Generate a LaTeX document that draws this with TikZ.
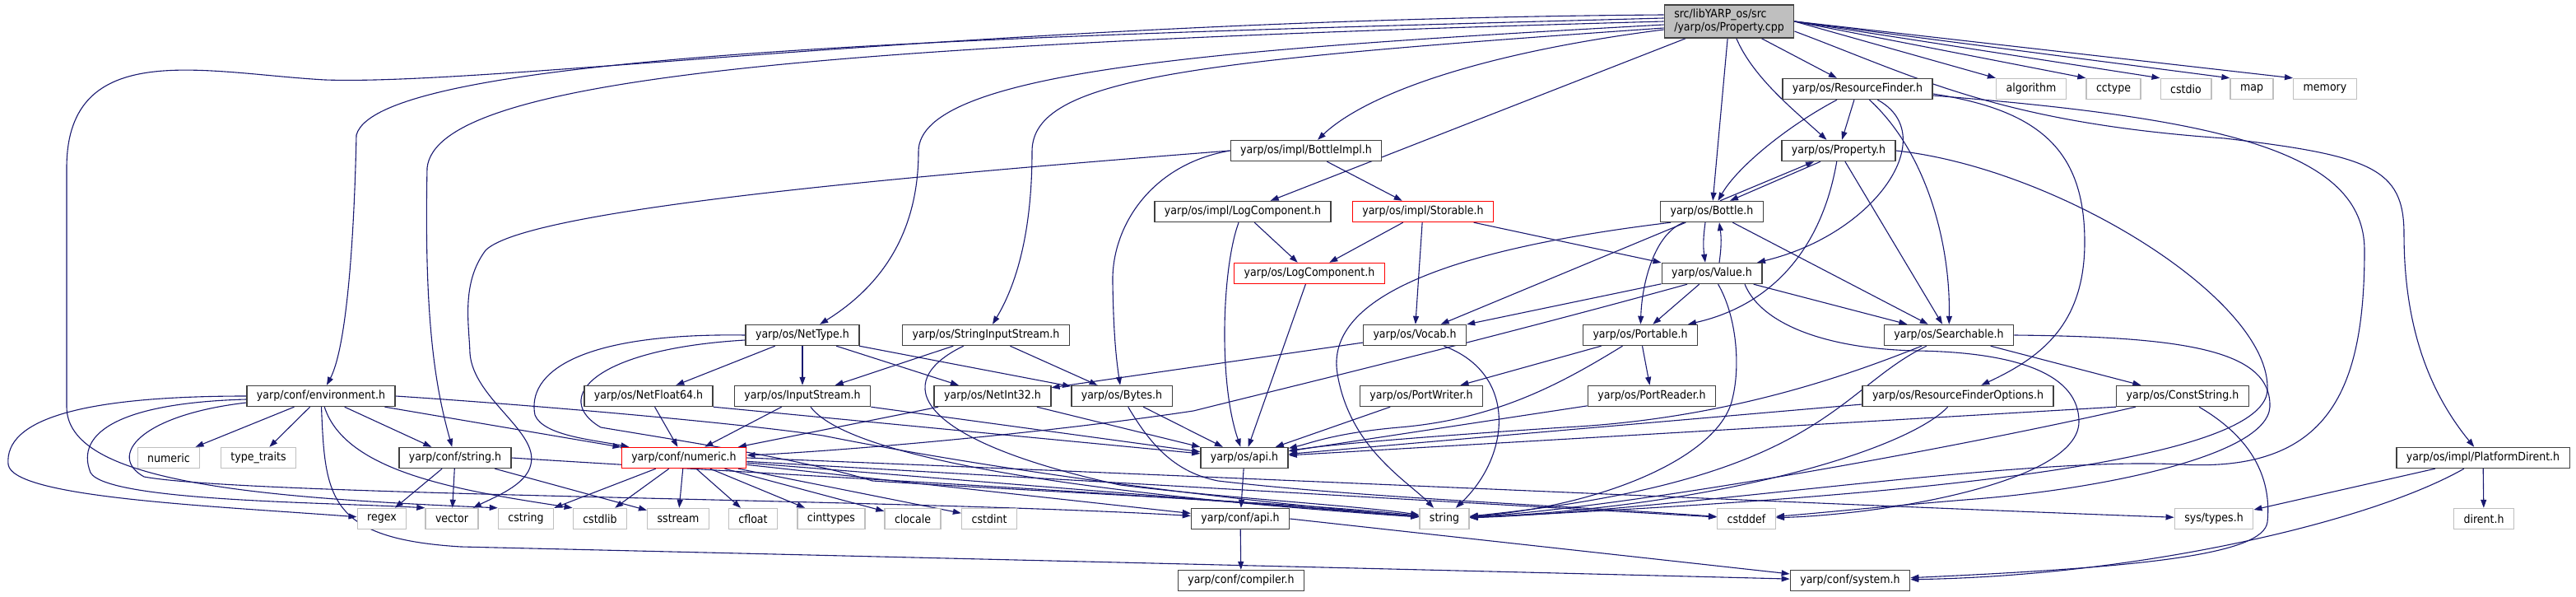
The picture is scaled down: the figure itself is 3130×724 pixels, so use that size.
\documentclass[tikz,border=0pt]{standalone}
\usepackage{fontspec}
\setmainfont{DejaVu Sans Condensed}
\usepackage{xcolor}
\usetikzlibrary{arrows.meta,backgrounds}
\definecolor{edgeblue}{HTML}{191970}
\definecolor{boxgray}{HTML}{BFBFBF}
\definecolor{boxdark}{HTML}{404040}

\begin{document}
\begin{tikzpicture}[
        x=1pt, y=1pt,
        doc/.style  ={draw=boxdark, line width=1.4pt, fill=white, minimum height=25pt,
                      inner xsep=12pt, inner ysep=0pt, font=\fontsize{14}{16}\selectfont},
        sys/.style  ={doc, draw=boxgray},
        trunc/.style={doc, draw=red},
        dep/.style  ={draw=edgeblue, line width=1.1pt, -{Triangle[length=10pt,width=7pt]}}
    ]
        \useasboundingbox (0,0) rectangle (3130,724);
        % root file
        \node[doc, fill=boxgray, align=left, minimum height=40pt, inner ysep=3pt]
              (root) at (2101,698) {src/libYARP\_os/src\\/yarp/os/Property.cpp};
        % project headers, row by row
        \node[doc] (RF)       at (2257,616) {yarp/os/ResourceFinder.h};
        \node[doc] (BImpl)    at (1587,541) {yarp/os/impl/BottleImpl.h};
        \node[doc] (PropH)    at (2234,541) {yarp/os/Property.h};
        \node[doc] (LogCI)    at (1510,467) {yarp/os/impl/LogComponent.h};
        \node[trunc] (Stor)   at (1729,467) {yarp/os/impl/Storable.h};
        \node[doc] (Bottle)   at (2080,467) {yarp/os/Bottle.h};
        \node[trunc] (LogC)   at (1591,392) {yarp/os/LogComponent.h};
        \node[doc] (Value)    at (2080,392) {yarp/os/Value.h};
        \node[doc] (NetType)  at (975,317)  {yarp/os/NetType.h};
        \node[doc] (SIS)      at (1198,317) {yarp/os/StringInputStream.h};
        \node[doc] (Vocab)    at (1719,317) {yarp/os/Vocab.h};
        \node[doc] (Portable) at (1993,317) {yarp/os/Portable.h};
        \node[doc] (Search)   at (2368,317) {yarp/os/Searchable.h};
        \node[doc] (Env)      at (390,243)  {yarp/conf/environment.h};
        \node[doc] (NF64)     at (788,243)  {yarp/os/NetFloat64.h};
        \node[doc] (InS)      at (975,243)  {yarp/os/InputStream.h};
        \node[doc] (NI32)     at (1206,243) {yarp/os/NetInt32.h};
        \node[doc] (Bytes)    at (1363,243) {yarp/os/Bytes.h};
        \node[doc] (PW)       at (1727,243) {yarp/os/PortWriter.h};
        \node[doc] (PR)       at (2007,243) {yarp/os/PortReader.h};
        \node[doc] (RFO)      at (2379,243) {yarp/os/ResourceFinderOptions.h};
        \node[doc] (CStr)     at (2652,243) {yarp/os/ConstString.h};
        \node[doc] (CStrH)    at (553,168)  {yarp/conf/string.h};
        \node[trunc] (Num)    at (831,168)  {yarp/conf/numeric.h};
        \node[doc] (OsApi)    at (1512,168) {yarp/os/api.h};
        \node[doc] (PDir)     at (3017,168) {yarp/os/impl/PlatformDirent.h};
        \node[doc] (ConfApi)  at (1507,94)  {yarp/conf/api.h};
        \node[doc] (Compiler) at (1508,19)  {yarp/conf/compiler.h};
        \node[doc] (System)   at (2248,19)  {yarp/conf/system.h};
        % system headers
        \foreach \nm/\px/\py/\lbl in {%
            algo/2468/616/algorithm, cctype/2568/616/cctype, cstdio/2656/616/cstdio,
            map/2736/616/map, memory/2825/616/memory,
            numeric/205/168/numeric, typetr/314/168/type\_traits,
            regex/464/94/regex, vector/549/94/vector, cstring/639/94/cstring,
            cstdlib/729/94/cstdlib, sstream/824/94/sstream, cfloat/915/94/cfloat,
            cinttypes/1010/94/cinttypes, clocale/1109/94/clocale, cstdint/1202/94/cstdint,
            string/1755/94/string, cstddef/2122/94/cstddef, systypes/2690/94/{sys/types.h},
            dirent/3018/94/dirent.h%
        }{
            \node[sys] (\nm) at (\px,\py) {\lbl};
        }

        \begin{scope}[on background layer]
        % straight includes
        \foreach \a/\b in {%
            root/RF, root/Bottle, root/LogCI, RF/PropH, BImpl/Stor, LogCI/LogC,
            Stor/LogC, Stor/Vocab, Stor/Value, LogC/OsApi, Bottle/Vocab, Bottle/Search,
            Value/Vocab, Value/Portable, Value/Search, PropH/Search,
            NetType/NF64, NetType/InS, NetType/NI32, NetType/Bytes, SIS/InS, SIS/Bytes,
            Vocab/NI32, Portable/PW, Portable/PR, PW/OsApi, PR/OsApi, RFO/OsApi,
            Search/CStr, Env/numeric, Env/typetr, Env/CStrH, Env/Num,
            NF64/Num, InS/Num, NI32/Num, NI32/OsApi, Bytes/OsApi,
            CStrH/regex, CStrH/vector, CStrH/sstream,
            Num/cstring, Num/cstdlib, Num/sstream, Num/cfloat, Num/cinttypes,
            Num/clocale, Num/cstdint, Num/ConfApi, Num/string, Num/cstddef,
            OsApi/ConfApi, ConfApi/Compiler, PDir/systypes, PDir/dirent%
        }{
            \draw[dep] (\a) -- (\b);
        }
        \foreach \b in {algo, cctype, cstdio, map, memory}
            \draw[dep] (root.east) -- (\b.north west);
        \draw[dep] (NF64.south east) -- (OsApi);
        \draw[dep] (InS.south east) -- (OsApi);
        \draw[dep] (CStr.south west) -- (OsApi);
        \draw[dep] (ConfApi.east) -- (System);

        % curved includes from the root
        \draw[dep] (root) .. controls (2130,630) and (2180,590) .. (PropH);
        \draw[dep] ([yshift=-10pt]root.west) .. controls (1800,660) and (1660,610) .. (BImpl);
        \draw[dep] ([yshift=-4pt]root.west) .. controls (1500,665) and (1116,640) .. (1116,540)
                   .. controls (1116,430) and (1060,370) .. (NetType);
        \draw[dep] ([yshift=-8pt]root.west) .. controls (1450,650) and (1254,630) .. (1254,540)
                   .. controls (1254,430) and (1230,370) .. (SIS);
        \draw[dep] ([yshift=4pt]root.west) .. controls (1200,680) and (460,660) .. (433,560)
                   .. controls (430,420) and (420,300) .. (Env);
        \draw[dep] (root.west) .. controls (1000,670) and (530,630) .. (519,520)
                   .. controls (515,330) and (530,250) .. (CStrH);
        \draw[dep] ([yshift=8pt]root.west) .. controls (1200,700) and (600,620) .. (395,627)
                   .. controls (250,635) and (81,680) .. (81,520) -- (81,230)
                   .. controls (81,140) and (300,120) .. (cstring.north west);
        \draw[dep] ([yshift=-12pt]root.east) .. controls (2330,630) and (2430,575) .. (2703,556)
                   .. controls (2880,535) and (2921,520) .. (2921,440)
                   .. controls (2921,330) and (2950,250) .. (PDir);

        % ResourceFinder.h
        \draw[dep] (RF) .. controls (2170,570) and (2110,520) .. (Bottle);
        \draw[dep] (RF) .. controls (2360,560) and (2280,440) .. (Value);
        \draw[dep] (RF) .. controls (2340,540) and (2370,430) .. (Search);
        \draw[dep] ([yshift=-6pt]RF.east) .. controls (2480,590) and (2533,540) .. (2533,430)
                   .. controls (2533,330) and (2480,290) .. (RFO);
        \draw[dep] ([yshift=-8pt]RF.east) .. controls (2700,580) and (2873,540) .. (2873,420)
                   .. controls (2873,250) and (2830,150) .. (2650,160)
                   .. controls (2450,170) and (2050,105) .. (string);

        % Property.h and Bottle.h
        \draw[dep] ([xshift=10pt]Bottle.north) -- ([xshift=-30pt]PropH.south);
        \draw[dep] ([xshift=-22pt]PropH.south) -- ([xshift=22pt]Bottle.north);
        \draw[dep] (PropH) .. controls (2215,430) and (2160,355) .. (Portable);
        \draw[dep] (PropH.east) .. controls (2500,520) and (2760,360) .. (2755,250)
                   .. controls (2750,160) and (2300,120) .. (string);
        \draw[dep] ([xshift=-8pt]Bottle.south) to[bend right=8] ([xshift=-8pt]Value.north);
        \draw[dep] ([xshift=9pt]Value.north) to[bend right=8] ([xshift=9pt]Bottle.south);
        \draw[dep] (Bottle) .. controls (2010,440) and (1995,380) .. (Portable);
        \draw[dep] ([xshift=-50pt]Bottle.south) .. controls (1750,420) and (1610,360) .. (1625,270)
                   .. controls (1640,180) and (1710,140) .. (string);

        % Value.h
        \draw[dep] (Value) .. controls (2110,340) and (2115,280) .. (2105,240)
                   .. controls (2090,170) and (1950,110) .. (string);
        \draw[dep] ([xshift=40pt]Value.south) .. controls (2140,330) and (2220,300) .. (2330,298)
                   .. controls (2450,296) and (2526,270) .. (2526,212)
                   .. controls (2526,140) and (2300,100) .. (cstddef);
        \draw[dep] ([xshift=-30pt]Value.south) .. controls (1800,310) and (1550,250) .. (1450,225)
                   .. controls (1250,195) and (1000,175) .. (Num);

        % Vocab.h, Portable.h, Searchable.h
        \draw[dep] (Vocab) .. controls (1845,270) and (1835,170) .. (string);
        \draw[dep] (Portable) .. controls (1900,260) and (1820,215) .. (1700,205)
                   .. controls (1620,198) and (1590,185) .. (OsApi);
        \draw[dep] (Search) .. controls (2250,270) and (2100,215) .. (1900,205)
                   .. controls (1750,195) and (1620,185) .. (OsApi);
        \draw[dep] (Search) .. controls (2230,250) and (2215,140) .. (string);
        \draw[dep] (Search.east) .. controls (2650,315) and (2760,300) .. (2758,230)
                   .. controls (2755,170) and (2550,130) .. (2400,118)
                   .. controls (2300,110) and (2200,100) .. (cstddef);

        % second and third row
        \draw[dep] (RFO) .. controls (2320,180) and (2100,110) .. (string);
        \draw[dep] (CStr) .. controls (2400,185) and (2000,110) .. (string);
        \draw[dep] ([xshift=20pt]CStr.south) .. controls (2740,190) and (2760,140) .. (2755,90)
                   .. controls (2750,50) and (2600,35) .. (System);
        \draw[dep] (PDir) .. controls (2880,90) and (2600,25) .. (System);
        \draw[dep] (LogCI) .. controls (1485,400) and (1480,260) .. (OsApi);
        \draw[dep] (BImpl.west) .. controls (1100,510) and (640,470) .. (590,420)
                   .. controls (560,380) and (570,330) .. (571,295)
                   .. controls (575,240) and (655,200) .. (645,160)
                   .. controls (640,135) and (600,120) .. (vector);
        \draw[dep] (BImpl.west) .. controls (1400,525) and (1350,450) .. (1352,380)
                   .. controls (1353,320) and (1356,290) .. (Bytes);
        \draw[dep] (NetType.west) .. controls (700,320) and (640,270) .. (650,220)
                   .. controls (660,195) and (720,190) .. (Num);
        \draw[dep] ([yshift=-6pt]NetType.west) .. controls (720,300) and (670,240) .. (730,205)
                   .. controls (850,185) and (980,165) .. (1060,140)
                   .. controls (1300,125) and (1600,112) .. (string);
        \draw[dep] (SIS) .. controls (1080,260) and (1110,190) .. (1361,135)
                   .. controls (1500,118) and (1650,110) .. (string);
        \draw[dep] (InS) .. controls (1030,170) and (1300,125) .. (string);
        \draw[dep] (Bytes) .. controls (1400,180) and (1430,150) .. (1480,140)
                   .. controls (1650,120) and (1900,110) .. (cstddef);

        % environment.h and conf/string.h
        \draw[dep] (Env.west) .. controls (100,243) and (5,215) .. (10,160)
                   .. controls (15,120) and (250,110) .. (regex);
        \draw[dep] ([yshift=-4pt]Env.west) .. controls (150,235) and (90,200) .. (110,150)
                   .. controls (130,115) and (400,114) .. (vector.north west);
        \draw[dep] ([yshift=-8pt]Env.west) .. controls (170,220) and (130,170) .. (175,145)
                   .. controls (300,122) and (1100,118) .. (ConfApi);
        \draw[dep] (Env) .. controls (420,150) and (560,128) .. (cstdlib.north west);
        \draw[dep] (Env.east) .. controls (650,232) and (900,210) .. (1000,195)
                   .. controls (1150,165) and (1400,125) .. (string);
        \draw[dep] (Env) .. controls (395,120) and (398,70) .. (560,60)
                   .. controls (1200,45) and (1900,28) .. (System);
        \draw[dep] (CStrH.east) .. controls (900,150) and (1400,125) .. (string);
        \draw[dep] (Num.east) .. controls (1600,140) and (2300,108) .. (systypes);
        \end{scope}
    \end{tikzpicture}
\end{document}
